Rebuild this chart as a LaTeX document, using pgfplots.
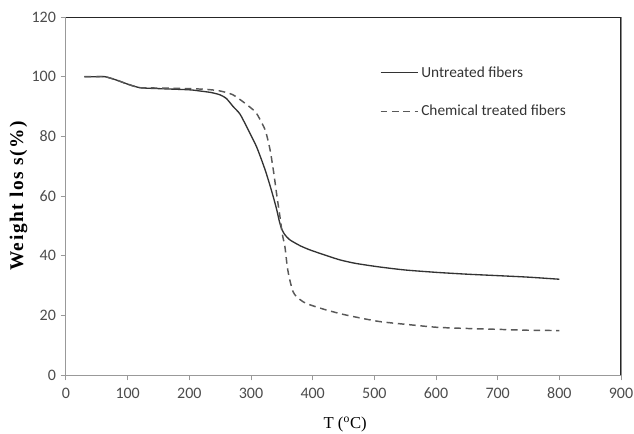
\documentclass[border=0pt]{standalone}
\usepackage{fontspec}
\setmainfont{Carlito}
\newfontfamily\tnr{Liberation Serif}
\usepackage{pgfplots}
\pgfplotsset{compat=1.18}
\usetikzlibrary{calc}

% readings from the TGA curves
\pgfplotstableread{
T w
30 100
50 100
63 100
80 99
100 97.5
120 96.3
150 96
200 95.6
217 95.2
235 94.7
250 93.9
260 92.7
271 90
282 87.5
293 83.2
309 76.5
323 68.7
333 62
341 56
346 51.5
350 48.8
355 47
363 45.3
380 43.3
396 41.9
420 40.2
444 38.6
470 37.4
509 36.2
550 35.2
601 34.4
650 33.8
701 33.3
750 32.8
800 32.1
}\untreated

\pgfplotstableread{
T w
30 100
50 100
63 100
80 99
100 97.5
120 96.3
150 96.2
200 96
230 95.7
250 95.2
270 94
287 91.6
300 89.5
309 87.7
323 82.1
331 75.4
337 67.6
342 60
347 53
351 47
355 43
359 36
363 31.8
368 28
374 26.2
385 24.5
396 23.5
422 21.8
450 20.3
480 19
509 17.9
550 17
601 16.0
650 15.6
701 15.3
750 15.0
800 14.9
}\treated

\begin{document}
\begin{tikzpicture}
\begin{axis}[
    name=ax,
    scale only axis,
    width=416.25pt, height=268.5pt,
    xmin=0, xmax=900, ymin=0, ymax=120,
    xtick={0,100,...,900},
    ytick={0,20,...,120},
    tick align=outside,
    major tick length=4pt,
    tick style={black!40, line width=0.75pt},
    xtick pos=bottom, ytick pos=left,
    axis line style={black!40, line width=0.75pt},
    tick label style={font=\fontsize{12}{14}\selectfont, text=black!70},
    xticklabel style={yshift=-2pt},
    /pgf/number format/assume math mode=true,
    every axis y label/.style={at={(rel axis cs:0,0.5)}, xshift=-35.6pt, rotate=90, anchor=center},
    every axis x label/.style={at={(rel axis cs:0.503,0)}, yshift=-37pt, anchor=center},
    ylabel={\tnr\bfseries\addfontfeature{LetterSpace=8}\fontsize{14.5}{17}\selectfont Weight los s(\%)},
    xlabel={\tnr\fontsize{12.5}{14}\selectfont T (\textsuperscript{o}C)},
    legend cell align=left,
    legend style={at={(rel axis cs:0.565,0.87)}, anchor=north west, draw=none, fill=none,
        font=\fontsize{11.5}{13}\selectfont, text=black!80, row sep=15.5pt, inner sep=0pt},
    legend image code/.code={\draw[#1] (0pt,0pt) -- (28pt,0pt);},
]
\addplot[black!80, line width=1pt, smooth, tension=0.4] table[x=T, y=w] {\untreated};
\addlegendentry{Untreated fibers}
\addplot[black!65, line width=1.1pt, smooth, tension=0.4, dash pattern=on 5pt off 3.5pt] table[x=T, y=w] {\treated};
\addlegendentry{Chemical treated fibers}
\draw[black!85, line width=1.1pt] (rel axis cs:0,1) -- (rel axis cs:1,1) -- (rel axis cs:1,0);
\end{axis}
\pgfresetboundingbox
\path ($(ax.south west)+(-49.5pt,-43.5pt)$) rectangle ($(ax.north east)+(9.75pt,12.75pt)$);
\end{tikzpicture}
\end{document}
